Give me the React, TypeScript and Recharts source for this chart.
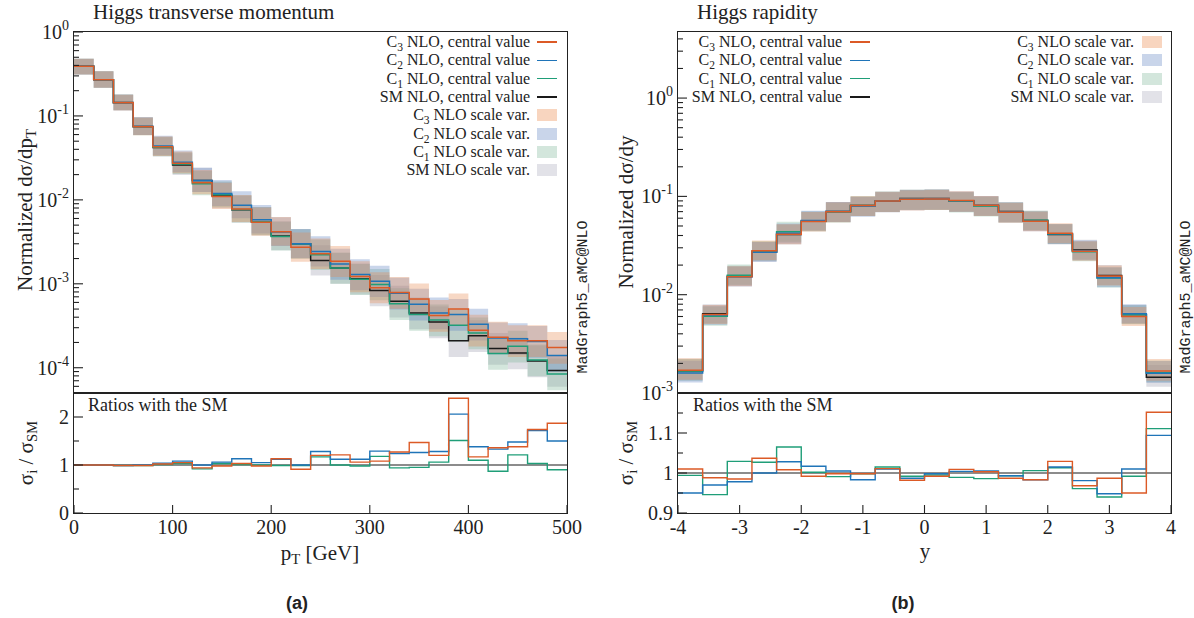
import React from "react";
import {ComposedChart, Line, Area, XAxis, YAxis, ReferenceLine} from "recharts";

// ---- Higgs pT (left panel), 20 GeV bins ----
const ptBins = [0, 20, 40, 60, 80, 100, 120, 140, 160, 180, 200, 220, 240, 260, 280, 300, 320, 340, 360, 380, 400, 420, 440, 460, 480];
const ptLast = 500;
const ptSM = [0.39, 0.27, 0.145, 0.075, 0.042, 0.026, 0.017, 0.0112, 0.0076, 0.0055, 0.0037, 0.003, 0.0019, 0.00154, 0.00115, 0.00083, 0.00062, 0.00045, 0.00035, 0.00021, 0.00024, 0.00017, 0.00015, 0.00012, 0.000093];
const ptC1 = [0.39, 0.27, 0.144, 0.0745, 0.0424, 0.0268, 0.0156, 0.0115, 0.0077, 0.0055, 0.00366, 0.00297, 0.00222, 0.00154, 0.00113, 0.00098, 0.00058, 0.00043, 0.00037, 0.00032, 0.00026, 0.000148, 0.00018, 0.000124, 0.000084];
const ptC2 = [0.39, 0.27, 0.1435, 0.075, 0.0437, 0.0281, 0.017, 0.0119, 0.0086, 0.00578, 0.00414, 0.003, 0.00243, 0.00172, 0.00129, 0.00107, 0.00077, 0.00057, 0.00045, 0.00043, 0.00033, 0.000226, 0.000222, 0.000206, 0.00014];
const ptC3 = [0.39, 0.27, 0.1435, 0.0743, 0.0428, 0.0273, 0.016, 0.011, 0.0078, 0.0054, 0.00418, 0.00273, 0.00228, 0.00186, 0.00122, 0.0009, 0.00079, 0.00066, 0.00042, 0.0005, 0.00028, 0.00023, 0.00021, 0.00021, 0.000174];
// relative scale variation (up / down)
const ptUp = [0.23, 0.26, 0.25, 0.29, 0.33, 0.38, 0.42, 0.45, 0.47, 0.5, 0.5, 0.5, 0.52, 0.52, 0.52, 0.53, 0.53, 0.53, 0.53, 0.53, 0.53, 0.53, 0.53, 0.53, 0.53];
const ptDown = [0.2, 0.2, 0.19, 0.21, 0.22, 0.24, 0.27, 0.29, 0.3, 0.31, 0.32, 0.33, 0.34, 0.35, 0.35, 0.35, 0.36, 0.36, 0.36, 0.36, 0.36, 0.36, 0.36, 0.36, 0.36];
// ratios to SM
const ptR1 = [1.0, 1.0, 0.99, 0.99, 1.01, 1.03, 0.92, 1.03, 1.01, 1.0, 0.99, 0.99, 1.17, 1.0, 0.98, 1.18, 0.94, 0.95, 1.06, 1.51, 1.1, 0.87, 1.21, 1.03, 0.9];
const ptR2 = [1.0, 1.0, 0.99, 1.0, 1.04, 1.08, 1.0, 1.06, 1.13, 1.05, 1.12, 1.0, 1.28, 1.12, 1.12, 1.29, 1.24, 1.26, 1.28, 2.06, 1.38, 1.33, 1.48, 1.72, 1.5];
const ptR3 = [1.0, 1.0, 0.99, 0.99, 1.02, 1.05, 0.94, 0.98, 1.03, 0.98, 1.13, 0.91, 1.2, 1.21, 1.06, 1.08, 1.27, 1.47, 1.2, 2.39, 1.17, 1.36, 1.38, 1.74, 1.87];

// ---- Higgs rapidity (right panel), 0.4 bins ----
const yBins = [-4, -3.6, -3.2, -2.8, -2.4, -2, -1.6, -1.2, -0.8, -0.4, 0, 0.4, 0.8, 1.2, 1.6, 2, 2.4, 2.8, 3.2, 3.6];
const yLast = 4;
const ySM = [0.00168, 0.0064, 0.0154, 0.027, 0.041, 0.056, 0.07, 0.081, 0.089, 0.095, 0.095, 0.09, 0.081, 0.07, 0.057, 0.041, 0.0285, 0.0157, 0.0063, 0.00145];
const yC1 = [0.00167, 0.00605, 0.0158, 0.0277, 0.0437, 0.0561, 0.0694, 0.0808, 0.0903, 0.0942, 0.0945, 0.089, 0.0799, 0.0695, 0.0573, 0.0415, 0.0274, 0.0148, 0.00625, 0.00161];
const yC2 = [0.0016, 0.0062, 0.0151, 0.027, 0.0421, 0.057, 0.0703, 0.0796, 0.0899, 0.0938, 0.0948, 0.0904, 0.0814, 0.0695, 0.056, 0.0416, 0.028, 0.0149, 0.0064, 0.00159];
const yC3 = [0.0017, 0.0063, 0.0152, 0.028, 0.0413, 0.0556, 0.0699, 0.0808, 0.09, 0.0933, 0.0942, 0.0908, 0.0812, 0.0691, 0.056, 0.0422, 0.0276, 0.0155, 0.006, 0.00167];
const yUp = [0.33, 0.25, 0.28, 0.27, 0.26, 0.25, 0.25, 0.24, 0.24, 0.24, 0.24, 0.24, 0.24, 0.25, 0.25, 0.26, 0.27, 0.28, 0.25, 0.33];
const yDown = [0.2, 0.2, 0.2, 0.2, 0.21, 0.21, 0.22, 0.22, 0.23, 0.23, 0.23, 0.23, 0.22, 0.22, 0.21, 0.21, 0.2, 0.2, 0.2, 0.2];
const yR1 = [0.994, 0.946, 1.029, 1.027, 1.065, 1.002, 0.991, 0.998, 1.015, 0.992, 0.995, 0.989, 0.986, 0.993, 1.006, 1.013, 0.961, 0.94, 0.992, 1.111];
const yR2 = [0.95, 0.97, 0.978, 1.0, 1.028, 1.017, 1.005, 0.983, 1.01, 0.987, 0.998, 1.004, 1.005, 0.993, 0.983, 1.015, 0.981, 0.948, 1.01, 1.094];
const yR3 = [1.01, 0.988, 0.985, 1.037, 1.008, 0.992, 0.998, 0.998, 1.011, 0.982, 0.992, 1.009, 1.003, 0.987, 0.983, 1.029, 0.968, 0.987, 0.95, 1.152];

const colors = {c3: "#dc5a26", c2: "#1f74b8", c1: "#1f9e78", sm: "#1a1a1a"};
const bandColors = {c3: "rgb(232,138,80)", c2: "rgb(101,135,195)", c1: "rgb(129,184,155)", sm: "rgb(160,160,178)"};
const swatch = {c3: "#f8d5bf", c2: "#c9d5ea", c1: "#d3e6dc", sm: "#e2e2e8"};

const serif = "'Liberation Serif', 'DejaVu Serif', serif";
const ink = "#222";

function buildRows(bins: number[], last: number, sm: number[], c1: number[], c2: number[], c3: number[],
                   up: number[], down: number[], r1: number[], r2: number[], r3: number[]) {
  const rows: any[] = bins.map((b, i) => ({
    x: b,
    sm: sm[i], c1: c1[i], c2: c2[i], c3: c3[i],
    smB: [sm[i] * (1 - down[i]), sm[i] * (1 + up[i])],
    c1B: [c1[i] * (1 - down[i]), c1[i] * (1 + up[i])],
    c2B: [c2[i] * (1 - down[i]), c2[i] * (1 + up[i])],
    c3B: [c3[i] * (1 - down[i]), c3[i] * (1 + up[i])],
    r1: r1[i], r2: r2[i], r3: r3[i],
  }));
  rows.push({...rows[rows.length - 1], x: last});
  return rows;
}

const ptRows = buildRows(ptBins, ptLast, ptSM, ptC1, ptC2, ptC3, ptUp, ptDown, ptR1, ptR2, ptR3);
const yRows = buildRows(yBins, yLast, ySM, yC1, yC2, yC3, yUp, yDown, yR1, yR2, yR3);

const minor = [1, 2, 3, 4, 5, 6, 7, 8, 9];
function logTicks(lo: number, hi: number) {
  const out: number[] = [];
  for (let e = Math.floor(Math.log10(lo)); e <= Math.ceil(Math.log10(hi)); e++) {
    minor.forEach((m) => {
      const v = m * Math.pow(10, e);
      if (v >= lo * 0.9999 && v <= hi * 1.0001) out.push(v);
    });
  }
  return out;
}

const LogYTick = (props: any) => {
  const {x, y, payload} = props;
  const v: number = payload.value;
  const e = Math.floor(Math.log10(v) + 1e-9);
  const major = Math.abs(v / Math.pow(10, e) - 1) < 1e-6;
  return (
    <g>
      <line x1={x} x2={x + (major ? 9 : 5)} y1={y} y2={y} stroke={ink} strokeWidth={1.1} />
      {major && (
        <text x={x - 5} y={y + 7} textAnchor="end" fontFamily={serif} fontSize={20} fill={ink}>
          10<tspan dy={-9} fontSize={14}>{String(e)}</tspan>
        </text>
      )}
    </g>
  );
};

const makeLinYTick = (labels: number[]) => (props: any) => {
  const {x, y, payload} = props;
  const v: number = payload.value;
  const major = labels.some((l) => Math.abs(l - v) < 1e-9);
  return (
    <g>
      <line x1={x} x2={x + (major ? 9 : 5)} y1={y} y2={y} stroke={ink} strokeWidth={1.1} />
      {major && (
        <text x={x - 5} y={y + 7} textAnchor="end" fontFamily={serif} fontSize={20} fill={ink}>
          {String(v)}
        </text>
      )}
    </g>
  );
};

const XTickLine = (props: any) => {
  const {x, y} = props;
  return <line x1={x} x2={x} y1={y} y2={y - 8} stroke={ink} strokeWidth={1.1} />;
};

const XTickLabel = (props: any) => {
  const {x, y, payload} = props;
  return (
    <g>
      <line x1={x} x2={x} y1={y} y2={y - 8} stroke={ink} strokeWidth={1.1} />
      <text x={x} y={y + 21} textAnchor="middle" fontFamily={serif} fontSize={20} fill={ink}>
        {String(payload.value)}
      </text>
    </g>
  );
};

type PanelProps = {
  left: number;
  rows: any[];
  xDomain: [number, number];
  xTicks: number[];
  yDomain: [number, number];
  rDomain: [number, number];
  rTicks: number[];
  rLabels: number[];
  yAxisW: number;
  rightM: number;
};

// main (log) plot: plot area from y=32 to y=393
function MainPlot({left, rows, xDomain, xTicks, yDomain, yAxisW, rightM}: PanelProps) {
  return (
    <div style={{position: "absolute", left, top: 0}}>
      <ComposedChart width={600} height={415} data={rows} margin={{top: 32, right: rightM, bottom: 22, left: 0}}>
        <XAxis dataKey="x" type="number" domain={xDomain} ticks={xTicks} interval={0} height={0}
               allowDataOverflow axisLine={false} tickLine={false} tickSize={0} tickMargin={0} tick={<XTickLine />} />
        <YAxis type="number" scale="log" domain={yDomain} ticks={logTicks(yDomain[0], yDomain[1])} interval={0}
               allowDataOverflow width={yAxisW} axisLine={false} tickLine={false} tickSize={0} tickMargin={0}
               tick={<LogYTick />} />
        <Area dataKey="smB" type="stepAfter" stroke="none" fill={bandColors.sm} fillOpacity={0.35} isAnimationActive={false} />
        <Area dataKey="c1B" type="stepAfter" stroke="none" fill={bandColors.c1} fillOpacity={0.35} isAnimationActive={false} />
        <Area dataKey="c2B" type="stepAfter" stroke="none" fill={bandColors.c2} fillOpacity={0.35} isAnimationActive={false} />
        <Area dataKey="c3B" type="stepAfter" stroke="none" fill={bandColors.c3} fillOpacity={0.33} isAnimationActive={false} />
        <Line dataKey="sm" type="stepAfter" stroke={colors.sm} strokeWidth={1.5} dot={false} activeDot={false} isAnimationActive={false} />
        <Line dataKey="c1" type="stepAfter" stroke={colors.c1} strokeWidth={1.5} dot={false} activeDot={false} isAnimationActive={false} />
        <Line dataKey="c2" type="stepAfter" stroke={colors.c2} strokeWidth={1.5} dot={false} activeDot={false} isAnimationActive={false} />
        <Line dataKey="c3" type="stepAfter" stroke={colors.c3} strokeWidth={1.5} dot={false} activeDot={false} isAnimationActive={false} />
      </ComposedChart>
    </div>
  );
}

// ratio plot: plot area from y=393 to y=513
function RatioPlot({left, rows, xDomain, xTicks, rDomain, rTicks, rLabels, yAxisW, rightM}: PanelProps) {
  return (
    <div style={{position: "absolute", left, top: 380, pointerEvents: "none"}}>
      <ComposedChart width={600} height={170} data={rows} margin={{top: 13, right: rightM, bottom: 27, left: 0}}>
        <XAxis dataKey="x" type="number" domain={xDomain} ticks={xTicks} interval={0} height={10}
               allowDataOverflow axisLine={false} tickLine={false} tickSize={0} tickMargin={0} tick={<XTickLabel />} />
        <YAxis type="number" domain={rDomain} ticks={rTicks} interval={0} allowDataOverflow width={yAxisW}
               axisLine={false} tickLine={false} tickSize={0} tickMargin={0} tick={makeLinYTick(rLabels)} />
        <ReferenceLine y={1} stroke={colors.sm} strokeWidth={1.2} />
        <Line dataKey="r1" type="stepAfter" stroke={colors.c1} strokeWidth={1.4} dot={false} activeDot={false} isAnimationActive={false} />
        <Line dataKey="r2" type="stepAfter" stroke={colors.c2} strokeWidth={1.4} dot={false} activeDot={false} isAnimationActive={false} />
        <Line dataKey="r3" type="stepAfter" stroke={colors.c3} strokeWidth={1.4} dot={false} activeDot={false} isAnimationActive={false} />
      </ComposedChart>
    </div>
  );
}

function Name({n}: {n: string}) {
  if (n === "SM") return <>SM</>;
  return (
    <>C<span style={{fontSize: "0.72em", position: "relative", top: "0.35em"}}>{n.slice(1)}</span></>
  );
}

const legendOrder = [
  {k: "c3", n: "C3"},
  {k: "c2", n: "C2"},
  {k: "c1", n: "C1"},
  {k: "sm", n: "SM"},
];

function LegendRow({cy, textRight, sampleX, k, n, kind}: any) {
  return (
    <>
      <div style={{position: "absolute", left: 0, width: textRight, top: cy - 10, height: 20, lineHeight: "20px",
                   textAlign: "right", fontSize: 16, whiteSpace: "nowrap"}}>
        <Name n={n} /> {kind === "line" ? "NLO, central value" : "NLO scale var."}
      </div>
      {kind === "line" ? (
        <div style={{position: "absolute", left: sampleX, top: cy - 0.6, width: 20, height: 1.3,
                     background: (colors as any)[k]}} />
      ) : (
        <div style={{position: "absolute", left: sampleX, top: cy - 6, width: 20, height: 12,
                     background: (swatch as any)[k]}} />
      )}
    </>
  );
}

function Rot({x, y, size, children, font}: any) {
  return (
    <div style={{position: "absolute", left: x, top: y, transform: "translate(-50%,-50%) rotate(-90deg)",
                 whiteSpace: "nowrap", fontSize: size, fontFamily: font || serif, lineHeight: 1}}>
      {children}
    </div>
  );
}

function Frame({x0, x1}: {x0: number; x1: number}) {
  return (
    <>
      <div style={{position: "absolute", left: x0 - 0.75, top: 31.25, width: x1 - x0 + 1.5, height: 482.5,
                   border: "1.5px solid #222", boxSizing: "border-box"}} />
      <div style={{position: "absolute", left: x0, top: 392.25, width: x1 - x0, height: 1.5, background: "#222"}} />
    </>
  );
}

const sub = {fontSize: "0.7em", position: "relative" as const, top: "0.3em"};

export default function App() {
  const rowsY = [42, 60.3, 78.6, 96.9];
  const rowsY2 = [115.2, 133.5, 151.8, 170.1];
  return (
    <div style={{position: "absolute", left: 0, top: 0, width: 1194, height: 618, background: "#fff",
                 fontFamily: serif, color: ink, overflow: "hidden"}}>
      <MainPlot left={0} rows={ptRows} xDomain={[0, 500]} xTicks={[0, 100, 200, 300, 400, 500]}
                yDomain={[0.00005, 1]} rDomain={[0, 2.5]} rTicks={[0, 0.5, 1, 1.5, 2]} rLabels={[0, 1, 2]}
                yAxisW={74} rightM={33} />
      <RatioPlot left={0} rows={ptRows} xDomain={[0, 500]} xTicks={[0, 100, 200, 300, 400, 500]}
                 yDomain={[0.00005, 1]} rDomain={[0, 2.5]} rTicks={[0, 0.5, 1, 1.5, 2]} rLabels={[0, 1, 2]}
                 yAxisW={74} rightM={33} />
      <MainPlot left={600} rows={yRows} xDomain={[-4, 4]} xTicks={[-4, -3, -2, -1, 0, 1, 2, 3, 4]}
                yDomain={[0.001, 4.7]} rDomain={[0.9, 1.2]} rTicks={[0.9, 0.95, 1, 1.05, 1.1, 1.15]}
                rLabels={[0.9, 1, 1.1]} yAxisW={78} rightM={29} />
      <RatioPlot left={600} rows={yRows} xDomain={[-4, 4]} xTicks={[-4, -3, -2, -1, 0, 1, 2, 3, 4]}
                 yDomain={[0.001, 4.7]} rDomain={[0.9, 1.2]} rTicks={[0.9, 0.95, 1, 1.05, 1.1, 1.15]}
                 rLabels={[0.9, 1, 1.1]} yAxisW={78} rightM={29} />

      <Frame x0={74} x1={567} />
      <Frame x0={678} x1={1171} />

      {/* titles */}
      <div style={{position: "absolute", left: 93, top: 0, fontSize: 21, lineHeight: "24px"}}>Higgs transverse momentum</div>
      <div style={{position: "absolute", left: 697, top: 0, fontSize: 21, lineHeight: "24px"}}>Higgs rapidity</div>

      {/* left legend */}
      {legendOrder.map((s, i) => (
        <LegendRow key={"l" + s.k} cy={rowsY[i]} textRight={530} sampleX={537} k={s.k} n={s.n} kind="line" />
      ))}
      {legendOrder.map((s, i) => (
        <LegendRow key={"b" + s.k} cy={rowsY2[i]} textRight={530} sampleX={537} k={s.k} n={s.n} kind="band" />
      ))}
      {/* right legend */}
      {legendOrder.map((s, i) => (
        <LegendRow key={"rl" + s.k} cy={rowsY[i]} textRight={842} sampleX={850} k={s.k} n={s.n} kind="line" />
      ))}
      {legendOrder.map((s, i) => (
        <LegendRow key={"rb" + s.k} cy={rowsY[i]} textRight={1134} sampleX={1142} k={s.k} n={s.n} kind="band" />
      ))}

      {/* ratio labels */}
      <div style={{position: "absolute", left: 88, top: 395, fontSize: 18, lineHeight: "20px"}}>Ratios with the SM</div>
      <div style={{position: "absolute", left: 693, top: 395, fontSize: 18, lineHeight: "20px"}}>Ratios with the SM</div>

      {/* axis titles */}
      <Rot x={25} y={210} size={21}>Normalized dσ/dp<span style={sub}>T</span></Rot>
      <Rot x={626} y={212} size={21}>Normalized dσ/dy</Rot>
      <Rot x={26} y={453} size={21}>σ<span style={sub}>i</span> / σ<span style={sub}>SM</span></Rot>
      <Rot x={626} y={453} size={21}>σ<span style={sub}>i</span> / σ<span style={sub}>SM</span></Rot>
      <div style={{position: "absolute", left: 320, top: 553, transform: "translate(-50%,-50%)", fontSize: 21,
                   whiteSpace: "nowrap"}}>p<span style={sub}>T</span> [GeV]</div>
      <div style={{position: "absolute", left: 925, top: 551, transform: "translate(-50%,-50%)", fontSize: 21}}>y</div>

      <Rot x={583} y={297} size={15} font="'Liberation Mono', 'DejaVu Sans Mono', monospace">MadGraph5_aMC@NLO</Rot>
      <Rot x={1186} y={297} size={15} font="'Liberation Mono', 'DejaVu Sans Mono', monospace">MadGraph5_aMC@NLO</Rot>

      <div style={{position: "absolute", left: 297, top: 603, transform: "translate(-50%,-50%)", fontSize: 18,
                   fontWeight: "bold", fontFamily: "'Liberation Sans', Arial, sans-serif"}}>(a)</div>
      <div style={{position: "absolute", left: 903, top: 603, transform: "translate(-50%,-50%)", fontSize: 18,
                   fontWeight: "bold", fontFamily: "'Liberation Sans', Arial, sans-serif"}}>(b)</div>
    </div>
  );
}
